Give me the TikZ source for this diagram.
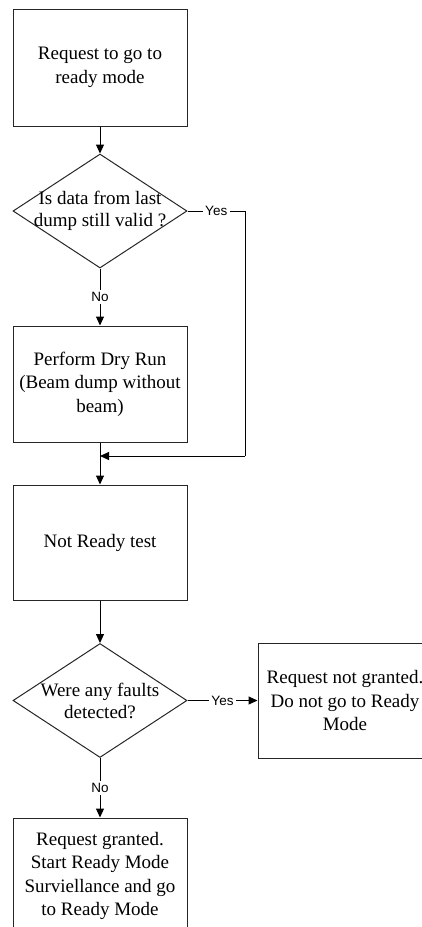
\documentclass[tikz,border=0pt]{standalone}
\usepackage{fontspec}
\setmainfont{Liberation Serif}
\newfontfamily\labelfont{Liberation Sans}
\usetikzlibrary{shapes.geometric,arrows.meta}

\tikzset{
  stepbox/.style={draw=black!85, line width=1pt, minimum width=174pt, minimum height=116pt,
    inner sep=0pt, align=center, font=\fontsize{19}{23.5}\selectfont},
  decision/.style={draw=black!85, line width=1pt, shape=diamond, minimum width=174pt,
    minimum height=114pt, inner sep=0pt},
  dtext/.style={align=center, inner sep=0pt, font=\fontsize{19}{22}\selectfont},
  conn/.style={draw=black, line width=1pt},
  arr/.style={conn, -{Triangle[length=9pt,width=8pt]}},
  branch/.style={fill=white, inner sep=2.5pt, font=\labelfont\fontsize{13.5}{15}\selectfont}
}

\begin{document}
\begin{tikzpicture}[x=1pt,y=-1pt]
  \useasboundingbox (0,0) rectangle (422,927);
  \clip (0,0) rectangle (422,927);

  % process steps and decisions
  \node[stepbox, minimum height=117pt] (req) at (100,67.5) {Request to go to\\ready mode};
  \node[decision] (valid) at (100,211) {};
  \node[dtext] (validtext) at (valid) {Is data from last\\dump still valid ?};
  \node[stepbox] (dry) at (100,384) {Perform Dry Run\\(Beam dump without\\beam)};
  \node[stepbox, minimum height=115pt] (notready) at (100,542.5) {Not Ready test};
  \node[decision] (faults) at (100,700.5) {};
  \node[dtext] (faultstext) at (faults) {Were any faults\\detected?};
  \node[stepbox, minimum height=115pt] (denied) at (345,700.5) {Request not granted.\\Do not go to Ready\\Mode};
  \node[stepbox] (granted) at (100,876) {Request granted.\\Start Ready Mode\\Surviellance and go\\to Ready Mode};

  % bypass route for valid dump data
  \coordinate (bypassA) at (245,211);
  \coordinate (bypassB) at (245,456);
  \coordinate (merge) at (100,456);

  % connectors
  \draw[arr] (req.south) -- (valid.north);
  \draw[arr] (valid.south) -- node[branch] (no1) {No} (dry.north);
  \draw[arr] (dry.south) -- (notready.north);
  \draw[conn] (valid.east) -- node[branch] (yes1) {Yes} (bypassA) -- (bypassB);
  \draw[arr] (bypassB) -- (merge);
  \draw[arr] (notready.south) -- (faults.north);
  \draw[arr] (faults.east) -- node[branch] (yes2) {Yes} (denied.west);
  \draw[arr] (faults.south) -- node[branch] (no2) {No} (granted.north);
\end{tikzpicture}
\end{document}
